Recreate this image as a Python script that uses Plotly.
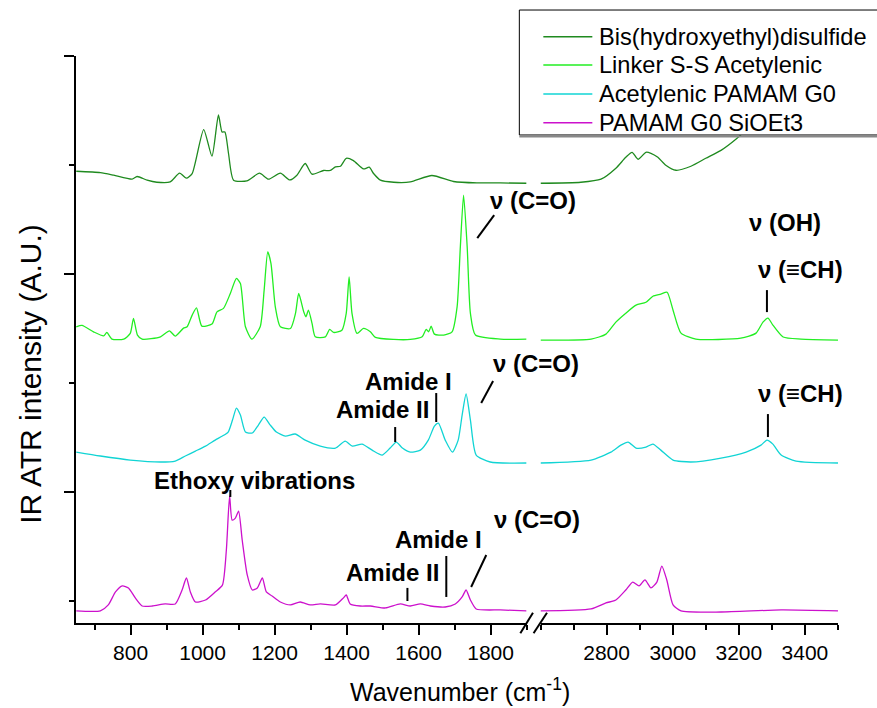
import plotly.graph_objects as go

# ---------------- data (wavenumber in cm-1, stacked intensity in A.U.) ----------------
wn_bis_l = [649, 716, 753, 804, 818, 846, 873, 910, 936, 955, 971, 1003, 1026, 1044, 1054, 1062, 1072, 1086,
            1123, 1158, 1183, 1216, 1242, 1262, 1285, 1304, 1336, 1355, 1369, 1383, 1399, 1419, 1447, 1463,
            1475, 1494, 1531, 1577, 1637, 1697, 1762, 1827, 1900]
int_bis_l = [3.942, 3.930, 3.906, 3.869, 3.894, 3.860, 3.841, 3.844, 3.924, 3.878, 3.921, 4.325, 4.080, 4.459,
             4.303, 4.303, 4.105, 3.860, 3.853, 3.924, 3.869, 3.924, 3.862, 3.906, 4.013, 3.915, 3.949, 3.949,
             3.982, 3.988, 4.061, 4.040, 3.963, 3.979, 3.921, 3.860, 3.841, 3.844, 3.903, 3.848, 3.835, 3.835, 3.832]
wn_bis_r = [2600, 2722, 2783, 2828, 2858, 2877, 2895, 2919, 2934, 2955, 2979, 3010, 3055, 3100, 3146, 3191,
            3237, 3297, 3388, 3500]
int_bis_r = [3.832, 3.841, 3.869, 3.970, 4.070, 4.116, 4.052, 4.116, 4.107, 4.070, 3.997, 3.951, 3.988, 4.061,
             4.134, 4.236, 4.364, 4.547, 4.731, 4.868]

wn_link_l = [649, 665, 697, 725, 734, 748, 781, 799, 808, 819, 832, 883, 908, 924, 947, 957, 971, 983, 998,
             1026, 1040, 1058, 1077, 1094, 1105, 1119, 1137, 1160, 1171, 1181, 1190, 1202, 1216, 1244, 1258,
             1267, 1281, 1287, 1294, 1304, 1313, 1341, 1353, 1364, 1387, 1399, 1407, 1415, 1429, 1447, 1466,
             1480, 1531, 1577, 1610, 1621, 1628, 1635, 1644, 1670, 1693, 1707, 1716, 1725, 1735, 1744, 1758,
             1827, 1900]
int_link_l = [2.514, 2.527, 2.468, 2.431, 2.462, 2.401, 2.401, 2.453, 2.591, 2.438, 2.401, 2.422, 2.477, 2.428,
              2.502, 2.514, 2.621, 2.688, 2.520, 2.539, 2.651, 2.683, 2.820, 2.958, 2.912, 2.514, 2.401, 2.514,
              2.851, 3.202, 3.095, 2.697, 2.514, 2.499, 2.637, 2.820, 2.651, 2.606, 2.667, 2.545, 2.422, 2.422,
              2.490, 2.462, 2.483, 2.637, 2.972, 2.637, 2.453, 2.499, 2.468, 2.417, 2.398, 2.398, 2.422, 2.490,
              2.468, 2.520, 2.447, 2.438, 2.468, 2.697, 3.248, 3.722, 3.248, 2.637, 2.438, 2.401, 2.401]
wn_link_r = [2600, 2753, 2798, 2828, 2858, 2889, 2919, 2940, 2964, 2983, 3001, 3025, 3070, 3206, 3252, 3273,
             3288, 3303, 3334, 3388, 3500]
int_link_r = [2.392, 2.401, 2.447, 2.557, 2.639, 2.713, 2.739, 2.795, 2.814, 2.831, 2.666, 2.456, 2.401, 2.410,
              2.456, 2.557, 2.594, 2.530, 2.420, 2.401, 2.392]

wn_acet_l = [649, 716, 799, 883, 924, 952, 980, 1008, 1035, 1055, 1071, 1083, 1094, 1105, 1119, 1138, 1155,
             1171, 1188, 1205, 1230, 1257, 1285, 1327, 1369, 1396, 1416, 1443, 1471, 1499, 1521, 1538, 1555,
             1577, 1605, 1627, 1644, 1655, 1674, 1694, 1710, 1721, 1732, 1744, 1760, 1799, 1900]
int_acet_l = [1.364, 1.328, 1.291, 1.273, 1.282, 1.328, 1.373, 1.419, 1.474, 1.511, 1.548, 1.658, 1.768, 1.704,
              1.548, 1.539, 1.612, 1.685, 1.612, 1.548, 1.511, 1.530, 1.474, 1.419, 1.401, 1.465, 1.419, 1.437,
              1.382, 1.337, 1.401, 1.456, 1.401, 1.364, 1.382, 1.474, 1.602, 1.630, 1.474, 1.364, 1.474, 1.704,
              1.897, 1.658, 1.337, 1.273, 1.264]
wn_acet_r = [2600, 2753, 2813, 2843, 2865, 2889, 2919, 2940, 2964, 3001, 3055, 3146, 3222, 3267, 3285, 3303,
             3328, 3373, 3500]
int_acet_r = [1.264, 1.291, 1.364, 1.428, 1.456, 1.401, 1.410, 1.437, 1.382, 1.291, 1.273, 1.309, 1.364, 1.428,
              1.474, 1.437, 1.337, 1.282, 1.264]

wn_si_l = [649, 716, 738, 758, 777, 794, 813, 832, 860, 896, 924, 943, 955, 966, 980, 1008, 1035, 1055, 1066,
           1075, 1082, 1091, 1100, 1110, 1124, 1138, 1152, 1166, 1177, 1193, 1216, 1244, 1271, 1299, 1327, 1369,
           1391, 1399, 1410, 1438, 1466, 1508, 1549, 1577, 1605, 1633, 1674, 1702, 1721, 1732, 1744, 1760, 1827,
           1900]
int_si_l = [-0.094, -0.094, -0.039, 0.080, 0.135, 0.117, 0.025, -0.049, -0.049, -0.030, -0.030, 0.098, 0.208,
            0.080, -0.012, 0.006, 0.080, 0.143, 0.465, 0.961, 0.740, 0.758, 0.822, 0.557, 0.236, 0.098, 0.117,
            0.208, 0.080, 0.043, -0.012, -0.039, -0.012, -0.039, -0.030, -0.039, 0.025, 0.052, -0.030, -0.049,
            -0.049, -0.067, -0.030, -0.049, -0.030, -0.049, -0.058, -0.030, 0.034, 0.098, 0.006, -0.076, -0.085,
            -0.094]
wn_si_r = [2600, 2753, 2798, 2828, 2858, 2879, 2898, 2916, 2934, 2952, 2967, 2982, 3001, 3025, 3146, 3328, 3500]
int_si_r = [-0.094, -0.076, -0.021, 0.006, 0.098, 0.171, 0.135, 0.190, 0.117, 0.171, 0.318, 0.190, -0.039,
            -0.094, -0.104, -0.085, -0.094]

series_names = ["Bis(hydroxyethyl)disulfide", "Linker S-S Acetylenic", "Acetylenic PAMAM G0", "PAMAM G0 SiOEt3"]
series_colors = ["#1f8a1f", "#22ee22", "#11d4d4", "#cc11cc"]

left_ticks = [800, 1000, 1200, 1400, 1600, 1800]
right_ticks = [2800, 3000, 3200, 3400]

FONT = "Arial, Liberation Sans, sans-serif"

fig = go.Figure()
data = [(wn_bis_l, int_bis_l, wn_bis_r, int_bis_r),
        (wn_link_l, int_link_l, wn_link_r, int_link_r),
        (wn_acet_l, int_acet_l, wn_acet_r, int_acet_r),
        (wn_si_l, int_si_l, wn_si_r, int_si_r)]
for name, col, (xl, yl, xr, yr) in zip(series_names, series_colors, data):
    fig.add_trace(go.Scatter(x=xl, y=yl, mode="lines", name=name, legendgroup=name, showlegend=False,
                             line=dict(color=col, width=1.3, shape="spline", smoothing=0.6),
                             xaxis="x", yaxis="y"))
    fig.add_trace(go.Scatter(x=xr, y=yr, mode="lines", name=name, legendgroup=name, showlegend=False,
                             line=dict(color=col, width=1.3, shape="spline", smoothing=0.6),
                             xaxis="x2", yaxis="y"))

axis_common = dict(showline=True, linecolor="black", linewidth=2, ticks="outside", ticklen=10,
                   tickwidth=2, tickcolor="black", showgrid=False, zeroline=False,
                   tickfont=dict(family=FONT, size=21, color="black"),
                   minor=dict(ticks="outside", ticklen=5, tickwidth=2, tickcolor="black", dtick=100))

fig.update_layout(
    width=877, height=708,
    margin=dict(l=76, r=39, t=56, b=85),
    paper_bgcolor="white", plot_bgcolor="white",
    showlegend=False,
    xaxis=dict(domain=[0, 0.5913], range=[648.3, 1900], tickvals=left_ticks, anchor="y",
               tick0=600, **axis_common),
    xaxis2=dict(domain=[0.6096, 1], range=[2600, 3500], tickvals=right_ticks, anchor="y",
                tick0=2600, **axis_common),
    yaxis=dict(range=[-0.205, 5], showline=True, linecolor="black", linewidth=2, ticks="outside",
               ticklen=10, tickwidth=2, tickcolor="black", tickvals=[1, 3, 5], showticklabels=False,
               showgrid=False, zeroline=False,
               minor=dict(ticks="outside", ticklen=5, tickwidth=2, tickcolor="black", tick0=0, dtick=1)),
)

# axis titles
fig.add_annotation(text="Wavenumber (cm<sup>-1</sup>)", xref="paper", yref="paper", x=0.504, y=-0.118,
                   xanchor="center", yanchor="middle", showarrow=False,
                   font=dict(family=FONT, size=25, color="black"))
fig.add_annotation(text="IR ATR intensity (A.U.)", xref="paper", yref="paper", x=-0.06, y=0.44,
                   xanchor="center", yanchor="middle", showarrow=False, textangle=-90,
                   font=dict(family=FONT, size=30, color="black"))

# axis break marks
for x0, x1 in [(0.5831, 0.5997), (0.6005, 0.6181)]:
    fig.add_shape(type="line", xref="paper", yref="paper", x0=x0, y0=-0.0182, x1=x1, y1=0.0182,
                  line=dict(color="black", width=2))

# legend box (drawn as a frame with line samples and labels)
fig.add_shape(type="rect", xref="paper", yref="paper", x0=0.5818, y0=0.8607, x1=1.06, y1=1.0811,
              line=dict(color="black", width=1), fillcolor="white", layer="above")
fig.add_shape(type="line", xref="paper", yref="paper", x0=0.5818, y0=0.8580, x1=1.06, y1=0.8580,
              line=dict(color="#888888", width=2), layer="above")
legend_rows = [1.034, 0.9841, 0.933, 0.8824]
for name, col, ry in zip(series_names, series_colors, legend_rows):
    fig.add_shape(type="line", xref="paper", yref="paper", x0=0.6133, y0=ry, x1=0.6776, y1=ry,
                  line=dict(color=col, width=1.5), layer="above")
    fig.add_annotation(text=name, xref="paper", yref="paper", x=0.6841, y=ry, xanchor="left",
                       yanchor="middle", showarrow=False, font=dict(family=FONT, size=23.6, color="black"))

# peak labels
labels = [
    ("ν (C=O)", 0.600, 0.746), ("ν (OH)", 0.931, 0.707), ("ν (≡CH)", 0.9505, 0.6226),
    ("Amide I", 0.4361, 0.4268), ("Amide II", 0.402, 0.3757), ("ν (C=O)", 0.604, 0.4568),
    ("ν (≡CH)", 0.9505, 0.4056), ("Ethoxy vibrations", 0.234, 0.2522), ("Amide I", 0.4755, 0.1464),
    ("Amide II", 0.4151, 0.0899), ("ν (C=O)", 0.6054, 0.1834),
]
for txt, x, y in labels:
    fig.add_annotation(text="<b>" + txt + "</b>", xref="paper", yref="paper", x=x, y=y,
                       xanchor="center", yanchor="middle", showarrow=False,
                       font=dict(family=FONT, size=24, color="black"))

# leader lines (data coordinates)
leaders = [
    ("x", 1763, 3.328, 1810, 3.539), ("x2", 3285, 2.649, 3285, 2.851),
    ("x", 1649, 1.640, 1649, 1.906), ("x", 1535, 1.456, 1535, 1.594),
    ("x", 1774, 1.814, 1807, 2.016), ("x2", 3288, 1.502, 3288, 1.713),
    ("x", 1077, 0.952, 1077, 1.016), ("x", 1677, 0.034, 1677, 0.410),
    ("x", 1569, -0.003, 1569, 0.117), ("x", 1746, 0.125, 1788, 0.419),
]
for xr, x0, y0, x1, y1 in leaders:
    fig.add_shape(type="line", xref=xr, yref="y", x0=x0, y0=y0, x1=x1, y1=y1,
                  line=dict(color="black", width=2))

fig.write_html("out.html")
